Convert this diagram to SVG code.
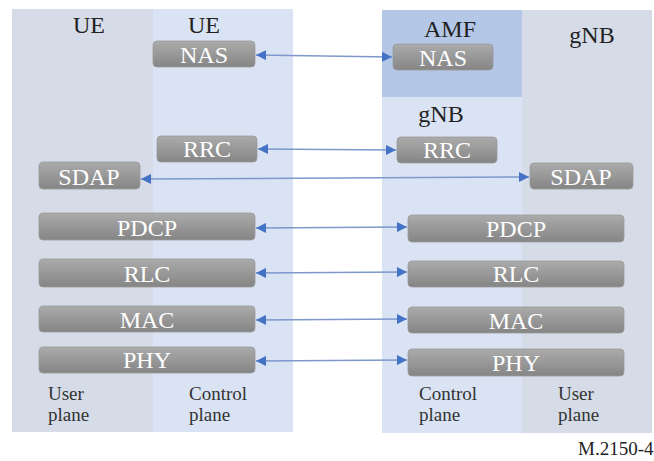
<svg xmlns="http://www.w3.org/2000/svg" width="654" height="461" viewBox="0 0 654 461">
<defs>
<linearGradient id="boxg" x1="0" y1="0" x2="0" y2="1">
<stop offset="0" stop-color="#ababab"/>
<stop offset="1" stop-color="#858585"/>
</linearGradient>
<marker id="ah" viewBox="0 0 10 10" refX="10" refY="5" markerWidth="10" markerHeight="10" markerUnits="userSpaceOnUse" orient="auto-start-reverse">
<path d="M0,0 L10,5 L0,10 z" fill="#4472c4"/>
</marker>
</defs>
<style>
.up{fill:#d5dce7}
.cp{fill:#dae3f3}
.amf{fill:#b4c7e7}
.box{fill:url(#boxg);stroke:#9a9a9a;stroke-width:0.8}
.bt{font-family:"Liberation Serif",serif;font-size:24px;fill:#ffffff;text-anchor:middle}
.hd{font-family:"Liberation Serif",serif;font-size:24px;fill:#222222;text-anchor:middle}
.lb{font-family:"Liberation Serif",serif;font-size:19px;fill:#333333}
.ft{font-family:"Liberation Serif",serif;font-size:19px;fill:#222222}
.cn{stroke:#7e98cc;stroke-width:1.5;fill:none;marker-start:url(#ah);marker-end:url(#ah)}
</style>
<rect width="654" height="461" fill="#ffffff"/>
<g id="panels">
<rect class="up" x="12" y="9" width="141" height="423"/>
<rect class="cp" x="153" y="9" width="140" height="423"/>
<rect class="cp" x="382" y="10" width="140" height="423"/>
<rect class="amf" x="382" y="10" width="140" height="87"/>
<rect class="up" x="522" y="10" width="130" height="423"/>
</g>
<g id="headers">
<text class="hd" x="89" y="33">UE</text>
<text class="hd" x="204" y="33">UE</text>
<text class="hd" x="450" y="37">AMF</text>
<text class="hd" x="592" y="43">gNB</text>
<text class="hd" x="441" y="122">gNB</text>
</g>
<g id="ue-nas"><rect class="box" x="153" y="41" width="102" height="26" rx="4"/><text class="bt" x="204" y="63">NAS</text></g>
<g id="amf-nas"><rect class="box" x="393" y="44" width="100" height="26" rx="4"/><text class="bt" x="443" y="66">NAS</text></g>
<g id="ue-rrc"><rect class="box" x="157" y="136" width="100" height="26" rx="4"/><text class="bt" x="207" y="157">RRC</text></g>
<g id="gnb-rrc"><rect class="box" x="397" y="137" width="100" height="26" rx="4"/><text class="bt" x="447" y="158">RRC</text></g>
<g id="ue-sdap"><rect class="box" x="39" y="162" width="101" height="27" rx="4"/><text class="bt" x="89" y="185">SDAP</text></g>
<g id="gnb-sdap"><rect class="box" x="530" y="163" width="103" height="26" rx="4"/><text class="bt" x="581" y="185">SDAP</text></g>
<g id="ue-pdcp"><rect class="box" x="39" y="213" width="216" height="27" rx="4"/><text class="bt" x="147" y="236">PDCP</text></g>
<g id="gnb-pdcp"><rect class="box" x="408" y="215" width="216" height="27" rx="4"/><text class="bt" x="516" y="237">PDCP</text></g>
<g id="ue-rlc"><rect class="box" x="39" y="259" width="216" height="28" rx="4"/><text class="bt" x="147" y="282">RLC</text></g>
<g id="gnb-rlc"><rect class="box" x="408" y="261" width="216" height="26" rx="4"/><text class="bt" x="516" y="282">RLC</text></g>
<g id="ue-mac"><rect class="box" x="39" y="306" width="216" height="26" rx="4"/><text class="bt" x="147" y="328">MAC</text></g>
<g id="gnb-mac"><rect class="box" x="408" y="307" width="216" height="26" rx="4"/><text class="bt" x="516" y="329">MAC</text></g>
<g id="ue-phy"><rect class="box" x="39" y="347" width="216" height="26" rx="4"/><text class="bt" x="147" y="368">PHY</text></g>
<g id="gnb-phy"><rect class="box" x="408" y="349" width="216" height="27" rx="4"/><text class="bt" x="516" y="371">PHY</text></g>
<g id="connectors">
<line class="cn" x1="256" y1="55" x2="392" y2="57"/>
<line class="cn" x1="258" y1="149" x2="396" y2="150"/>
<line class="cn" x1="141" y1="179" x2="529" y2="177"/>
<line class="cn" x1="256" y1="228" x2="407" y2="227"/>
<line class="cn" x1="256" y1="273" x2="407" y2="272"/>
<line class="cn" x1="256" y1="320" x2="407" y2="319"/>
<line class="cn" x1="256" y1="361" x2="407" y2="360"/>
</g>
<g id="labels">
<text class="lb" x="48" y="400">User</text>
<text class="lb" x="48" y="421">plane</text>
<text class="lb" x="189" y="400">Control</text>
<text class="lb" x="189" y="421">plane</text>
<text class="lb" x="419" y="400">Control</text>
<text class="lb" x="419" y="421">plane</text>
<text class="lb" x="558" y="400">User</text>
<text class="lb" x="558" y="421">plane</text>
<text class="ft" x="578" y="455">M.2150-4</text>
</g>
</svg>
